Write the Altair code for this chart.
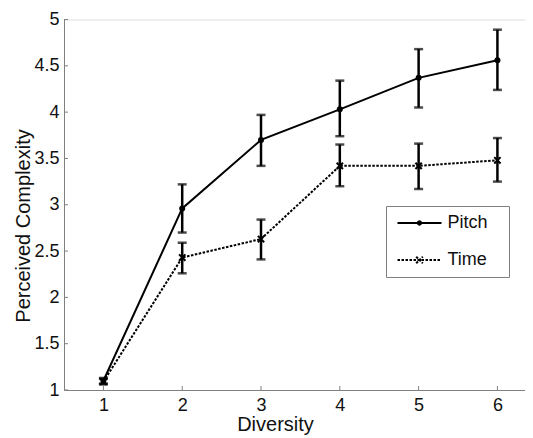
import altair as alt
import pandas as pd

# ---- data ----
diversity = [1, 2, 3, 4, 5, 6]
pitch_mean = [1.10, 2.96, 3.70, 4.03, 4.37, 4.56]
pitch_lo = [1.07, 2.70, 3.42, 3.74, 4.05, 4.24]
pitch_hi = [1.13, 3.22, 3.97, 4.34, 4.68, 4.89]
time_mean = [1.09, 2.43, 2.63, 3.42, 3.42, 3.48]
time_lo = [1.06, 2.26, 2.41, 3.20, 3.17, 3.25]
time_hi = [1.12, 2.59, 2.84, 3.65, 3.66, 3.72]
series_names = ["Pitch", "Time"]
x_ticks = [1, 2, 3, 4, 5, 6]
y_ticks = [1, 1.5, 2, 2.5, 3, 3.5, 4, 4.5, 5]

rows = []
for name, m, lo, hi in [
    ("Pitch", pitch_mean, pitch_lo, pitch_hi),
    ("Time", time_mean, time_lo, time_hi),
]:
    for d, a, b, c in zip(diversity, m, lo, hi):
        rows.append({"series": name, "diversity": d, "mean": a, "lo": b, "hi": c})
df = pd.DataFrame(rows)

W, H = 461, 370.5
FONT = "Liberation Sans"
AX = "#808080"
TXT = "#111111"

xs = alt.Scale(domain=[0.5, 6.35], nice=False, zero=False)
ys = alt.Scale(domain=[1, 5], nice=False, zero=False)

xax = alt.Axis(values=x_ticks, format="d", grid=False, ticks=False, tickSize=0, labelPadding=20.5,
               labelBaseline="alphabetic", labelFontSize=18, labelFont=FONT, labelColor=TXT,
               domainColor=AX, title="Diversity", titleFont=FONT, titleFontSize=20,
               titleFontWeight="normal", titleColor=TXT, titleX=211, titleY=40.7,
               titleBaseline="alphabetic", titleAlign="center")
yax = alt.Axis(values=y_ticks, format="~g", grid=False, ticks=False, tickSize=0, labelPadding=5,
               labelFontSize=18, labelFont=FONT, labelColor=TXT, domainColor=AX,
               title="Perceived Complexity", titleFont=FONT, titleFontSize=20,
               titleFontWeight="normal", titleColor=TXT, titleX=-35, titleY=206,
               titleBaseline="alphabetic", titleAlign="center", titleAngle=270)


def X(f="diversity"):
    return alt.X(f + ":Q", scale=xs, axis=xax)


def Y(f="mean"):
    return alt.Y(f + ":Q", scale=ys, axis=yax)


base = alt.Chart(df)
pitch = base.transform_filter(alt.datum.series == "Pitch")
time = base.transform_filter(alt.datum.series == "Time")

line_p = pitch.mark_line(color="black", strokeWidth=2).encode(x=X(), y=Y())
line_t = time.mark_line(color="black", strokeWidth=2, strokeDash=[2.5, 1.5]).encode(x=X(), y=Y())

err = base.mark_rule(color="black", strokeWidth=2.5).encode(x=X(), y=Y("lo"), y2="hi:Q")
cap_lo = base.mark_tick(color="black", orient="horizontal", size=9, thickness=2.5).encode(x=X(), y=Y("lo"))
cap_hi = base.mark_tick(color="black", orient="horizontal", size=9, thickness=2.5).encode(x=X(), y=Y("hi"))

pt_p = pitch.mark_point(shape="circle", filled=True, color="black", size=36, opacity=1).encode(x=X(), y=Y())
pt_t = time.mark_point(shape="M-1,-1L1,1M-1,1L1,-1", filled=False, color="black", size=40,
                       strokeWidth=2, opacity=1).encode(x=X(), y=Y())

# inward tick marks (MATLAB style)
xt = pd.DataFrame({"v": x_ticks})
yt = pd.DataFrame({"v": y_ticks})
xtick = alt.Chart(xt).mark_rule(color=AX, strokeWidth=1).encode(
    x=X("v"), y=alt.value(H), y2=alt.value(H - 4))
ytick = alt.Chart(yt).mark_rule(color=AX, strokeWidth=1).encode(
    y=Y("v"), x=alt.value(0), x2=alt.value(4))

# legend layer (invisible marks, legend only)
pitch_sym = "M-4,0H4M-0.3,0A0.3,0.3 0 1,0 0.3,0A0.3,0.3 0 1,0 -0.3,0"
time_sym = "M-4,0H4M-0.6,-0.6L0.6,0.6M-0.6,0.6L0.6,-0.6"
leg = base.mark_point(opacity=0, filled=False, color="black", strokeWidth=2, size=121).encode(
    x=X(), y=Y(),
    shape=alt.Shape("series:N", scale=alt.Scale(domain=series_names, range=[pitch_sym, time_sym]),
                    legend=alt.Legend(title=None, orient="none", legendX=322, legendY=186.5,
                                      padding=8, rowPadding=19, symbolOffset=16.5, labelOffset=19,
                                      symbolSize=121, symbolOpacity=1,
                                      symbolStrokeColor="black", symbolStrokeWidth=2,
                                      labelExpr="datum.label + '\u2800'",
                                      labelFont=FONT, labelFontSize=18, labelColor=TXT,
                                      strokeColor=AX, fillColor="white")),
    strokeDash=alt.StrokeDash("series:N", scale=alt.Scale(domain=series_names, range=[[1, 0], [2.5, 1.5]]),
                              legend=alt.Legend(title=None)),
)

chart = alt.layer(xtick, ytick, line_p, line_t, err, cap_lo, cap_hi, pt_p, pt_t, leg).properties(
    width=W, height=H,
    autosize=alt.AutoSizeParams(type="none"),
    padding={"left": 56, "top": 11.5, "right": 0, "bottom": 48},
).configure_view(stroke=None).configure(background="white")

chart.save("out.html", embed_options={"renderer": "svg", "actions": False})
